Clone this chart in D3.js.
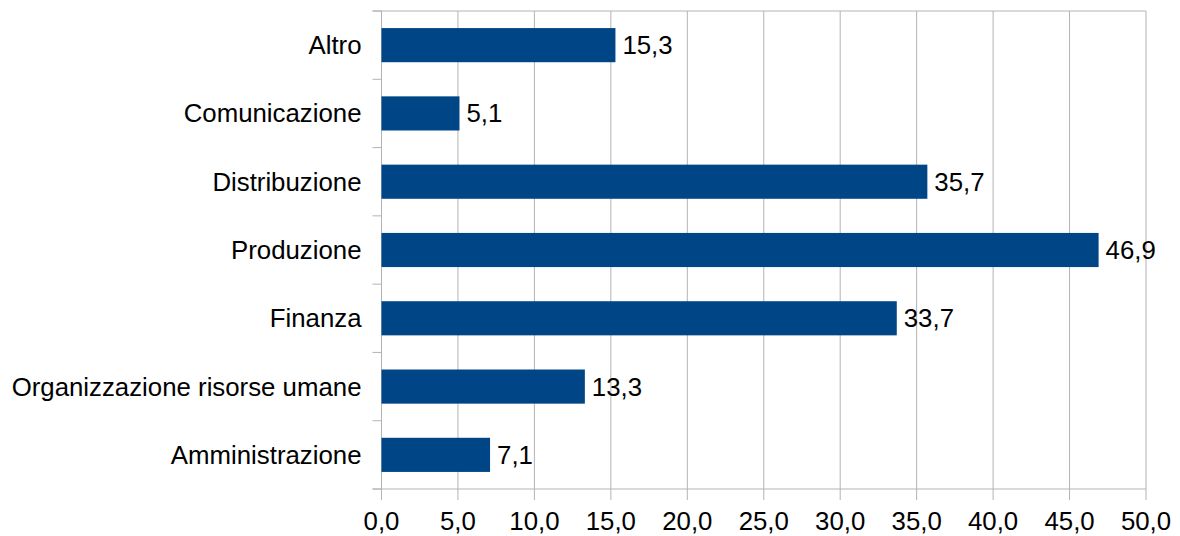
<!DOCTYPE html>
<html>
<head>
<meta charset="utf-8">
<script src="https://cdn.jsdelivr.net/npm/d3@7"></script>
<style>
  body { margin: 0; background: #fff; }
  text { font-family: "Liberation Sans", Arial, sans-serif; fill: #000; }
</style>
</head>
<body>
<div id="viz"></div>
<script>
// categories top to bottom, as in the picture
var categories = ["Altro", "Comunicazione", "Distribuzione", "Produzione", "Finanza",
                  "Organizzazione risorse umane", "Amministrazione"];
var values = [15.3, 5.1, 35.7, 46.9, 33.7, 13.3, 7.1];
var xTicks = [0, 5, 10, 15, 20, 25, 30, 35, 40, 45, 50];

const W = 1180, H = 536;
const margin = {top: 11, right: 34, bottom: 47, left: 381.5};
const width = W - margin.left - margin.right,
      height = H - margin.top - margin.bottom;
const fontSize = "25.8px";

const fmt = d => d.toFixed(1).replace(".", ",");

const svg = d3.select("#viz").append("svg")
    .attr("width", W)
    .attr("height", H)
  .append("g")
    .attr("transform", `translate(${margin.left},${margin.top})`);

const x = d3.scaleLinear().domain([0, 50]).range([0, width]);
// bar is half of each band
const y = d3.scaleBand().domain(categories).range([0, height])
    .paddingInner(0.5).paddingOuter(0.25);

// vertical gridlines + ticks below
svg.append("g")
  .selectAll("line")
  .data(xTicks)
  .join("line")
    .attr("x1", d => x(d)).attr("x2", d => x(d))
    .attr("y1", 0).attr("y2", height + 11)
    .attr("stroke", "#b3b3b3")
    .attr("stroke-width", 1);

// top and bottom border lines
svg.append("line")
    .attr("x1", -9).attr("x2", width)
    .attr("y1", 0).attr("y2", 0)
    .attr("stroke", "#b3b3b3");
svg.append("line")
    .attr("x1", -9).attr("x2", width)
    .attr("y1", height).attr("y2", height)
    .attr("stroke", "#b3b3b3");

// category boundary ticks on the left
var bounds = d3.range(categories.length + 1).map(i => i * height / categories.length);
svg.append("g")
  .selectAll("line")
  .data(bounds)
  .join("line")
    .attr("x1", -9).attr("x2", 0)
    .attr("y1", d => d).attr("y2", d => d)
    .attr("stroke", "#b3b3b3");

// bars
svg.append("g")
  .selectAll("rect")
  .data(values)
  .join("rect")
    .attr("x", x(0))
    .attr("y", (d, i) => y(categories[i]))
    .attr("width", d => x(d) - x(0))
    .attr("height", y.bandwidth())
    .attr("fill", "#004586");

// value labels
svg.append("g")
  .selectAll("text")
  .data(values)
  .join("text")
    .attr("x", d => x(d) + 7)
    .attr("y", (d, i) => y(categories[i]) + y.bandwidth() / 2)
    .attr("dy", "0.35em")
    .style("font-size", fontSize)
    .text(fmt);

// category labels
svg.append("g")
  .selectAll("text")
  .data(categories)
  .join("text")
    .attr("x", -20)
    .attr("y", d => y(d) + y.bandwidth() / 2)
    .attr("dy", "0.35em")
    .attr("text-anchor", "end")
    .style("font-size", fontSize)
    .text(d => d);

// x tick labels
svg.append("g")
  .selectAll("text")
  .data(xTicks)
  .join("text")
    .attr("x", d => x(d))
    .attr("y", height + 41)
    .attr("text-anchor", "middle")
    .style("font-size", fontSize)
    .text(fmt);
</script>
</body>
</html>
